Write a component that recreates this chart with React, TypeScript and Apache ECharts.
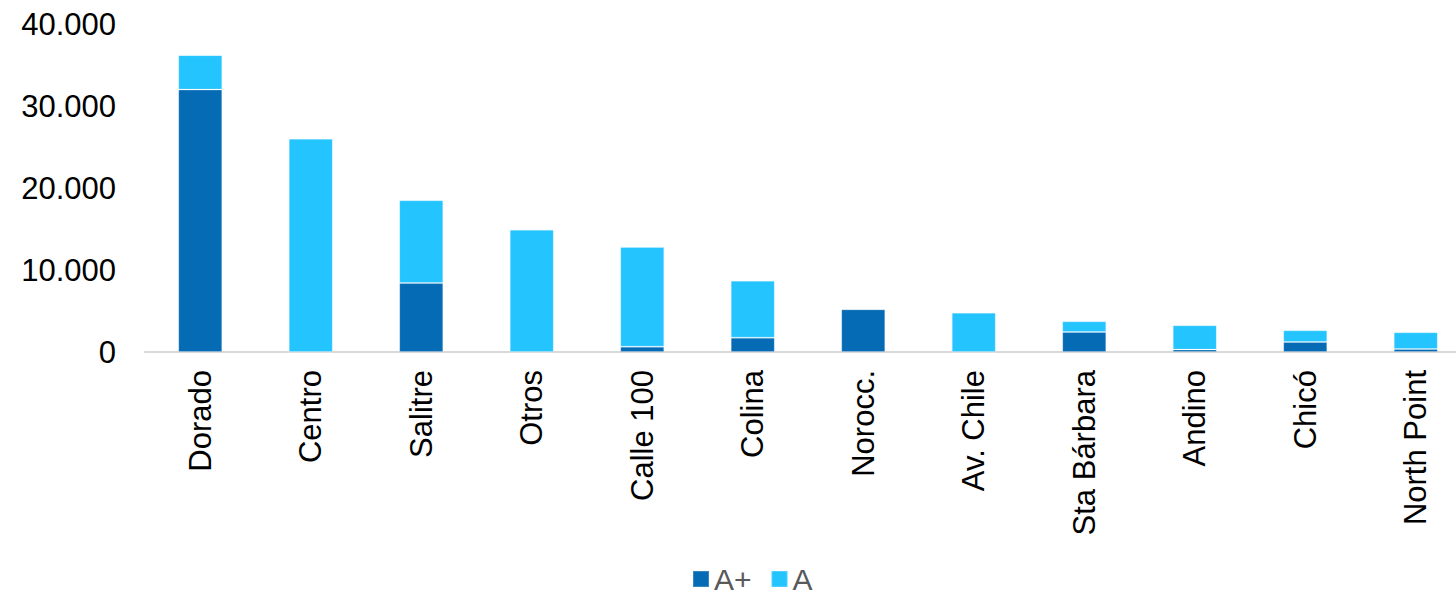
import React, { useEffect, useRef } from "react";
import * as echarts from "echarts";

const categories = ["Dorado", "Centro", "Salitre", "Otros", "Calle 100", "Colina", "Norocc.", "Av. Chile", "Sta Bárbara", "Andino", "Chicó", "North Point"];
const totals = [36200, 26000, 18500, 14900, 12800, 8700, 5200, 4800, 3740, 3250, 2640, 2400];
const aPlus = [32000, 0, 8400, 0, 650, 1750, 5200, 0, 2440, 290, 1220, 370];
const aValues = totals.map((t, i) => t - aPlus[i]);
const yTicks = [0, 10000, 20000, 30000, 40000];

const fmt = (v: number) => v.toLocaleString("de-DE");

export default function App() {
  const ref = useRef<HTMLDivElement>(null);
  useEffect(() => {
    const chart = echarts.init(ref.current!, null, { renderer: "svg" });
    const font = "'Liberation Sans', Arial, sans-serif";
    chart.setOption({
      animation: false,
      textStyle: { fontFamily: font },
      grid: { left: 145, top: 24, right: 0, bottom: 250, containLabel: false },
      legend: {
        top: 562,
        left: 692,
        padding: 0,
        itemWidth: 16,
        itemHeight: 16,
        itemGap: 19,
        icon: "rect",
        textStyle: { fontSize: 30, lineHeight: 34, color: "#595959", fontFamily: font },
        data: ["A+", "A"],
      },
      xAxis: {
        type: "category",
        data: categories,
        axisLine: { lineStyle: { color: "#d9d9d9", width: 2 } },
        axisTick: { show: false },
        axisLabel: { rotate: 90, fontSize: 31, color: "#000", margin: 18, fontFamily: font, interval: 0 },
      },
      yAxis: {
        type: "value",
        min: yTicks[0],
        max: yTicks[yTicks.length - 1],
        interval: 10000,
        splitLine: { show: false },
        axisLine: { show: false },
        axisTick: { show: false },
        axisLabel: { fontSize: 31, color: "#000", margin: 29, fontFamily: font, formatter: (v: number) => fmt(v) },
      },
      series: [
        {
          name: "A+",
          type: "bar",
          stack: "total",
          barWidth: 44,
          data: aPlus,
          itemStyle: { color: "#046bb4", borderColor: "rgba(255,255,255,0.2)", borderWidth: 1 },
        },
        {
          name: "A",
          type: "bar",
          stack: "total",
          barWidth: 44,
          data: aValues,
          itemStyle: { color: "#24c4ff", borderColor: "rgba(255,255,255,0.2)", borderWidth: 1 },
        },
      ],
    });
    return () => chart.dispose();
  }, []);
  return (
    <div style={{ position: "fixed", left: 0, top: 0, width: 1456, height: 602, overflow: "hidden", background: "#fff" }}>
      <div ref={ref} style={{ position: "absolute", left: 0, top: 0, width: 1471, height: 602 }} />
    </div>
  );
}
